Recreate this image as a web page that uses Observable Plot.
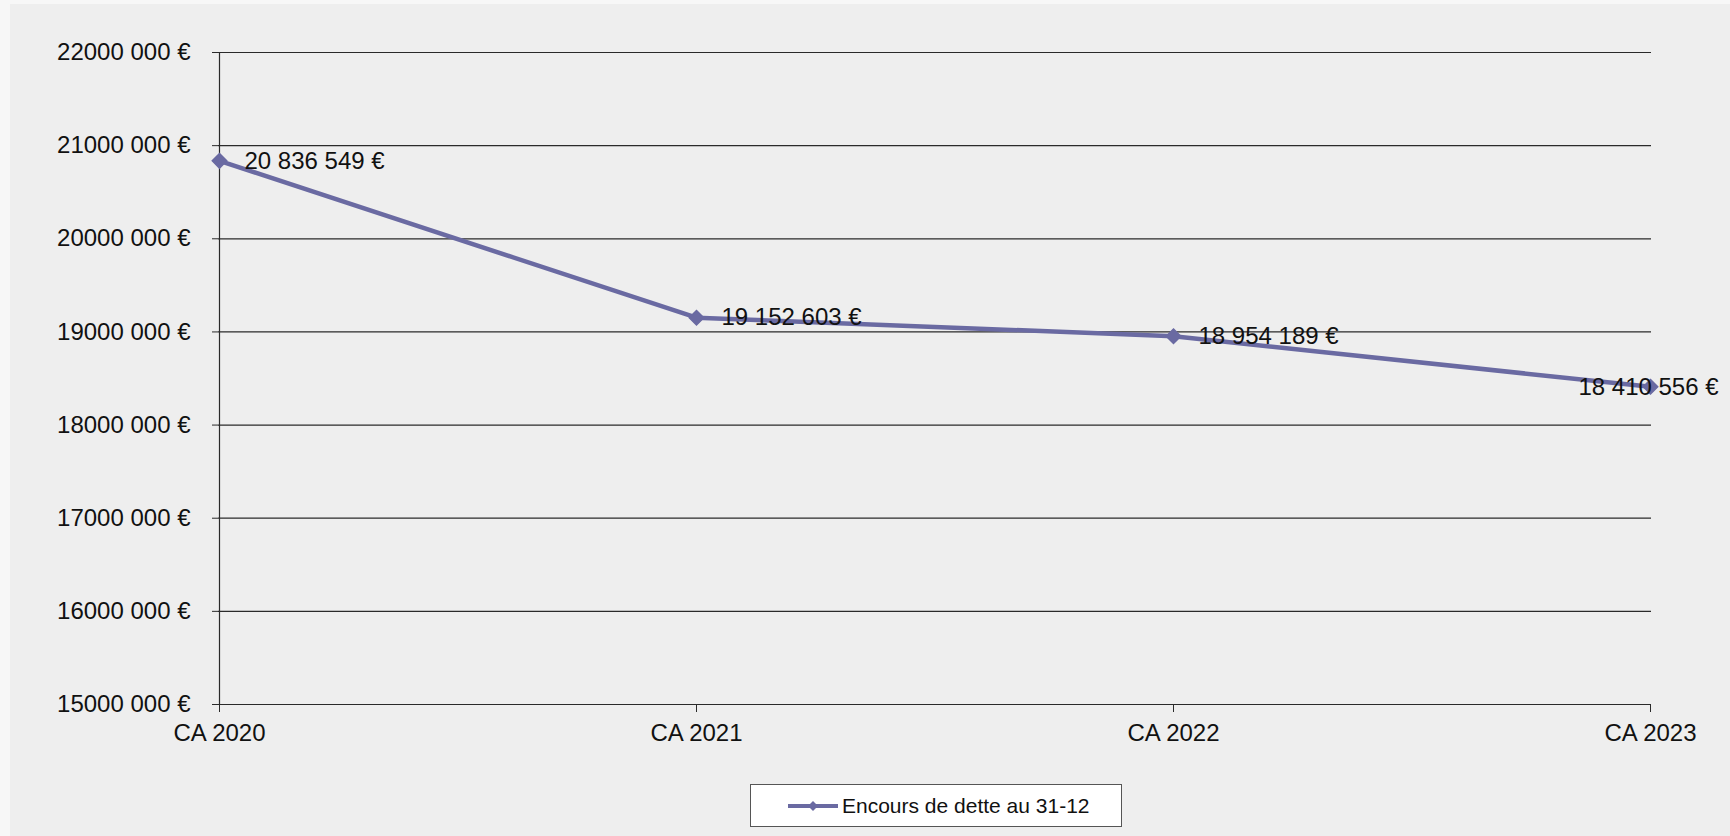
<!DOCTYPE html>
<html><head><meta charset="utf-8">
<script src="https://cdn.jsdelivr.net/npm/d3@7"></script>
<script src="https://cdn.jsdelivr.net/npm/@observablehq/plot@0.6"></script>
<style>
html,body{margin:0;padding:0;background:#f7f7f7;font-family:"Liberation Sans",Arial,sans-serif;}
#bg{position:absolute;left:10px;top:4px;width:1720px;height:832px;background:#eeeeee;}
#chart{position:absolute;left:0;top:0;width:1730px;}
#legend{margin-left:750px;margin-top:24px;width:370px;height:41px;background:#ffffff;border:1px solid #555;box-sizing:content-box;display:flex;align-items:center;font-size:21px;color:#111;}
#legend svg{margin-left:36px;margin-right:3px;}
</style></head>
<body>
<div id="bg"></div>
<div id="chart"></div>
<script>
const categories = ["CA 2020", "CA 2021", "CA 2022", "CA 2023"];
const encours = [20836549, 19152603, 18954189, 18410556];
const yTicks = [15000000, 16000000, 17000000, 18000000, 19000000, 20000000, 21000000, 22000000];
const seriesName = "Encours de dette au 31-12";

const data = categories.map((c, i) => ({cat: c, v: encours[i], last: i === categories.length - 1}));
const fmtTick = n => `${Math.round(n / 1000)} 000 €`;
const fmtLabel = n => d3.format(",")(n).replace(/,/g, " ") + " €";
const lineColor = "#6a6aa2";

const chart = Plot.plot({
  width: 1730,
  height: 760,
  marginLeft: 218,
  marginRight: 79,
  marginTop: 52,
  marginBottom: 56,
  style: {fontSize: "24px", fontFamily: "'Liberation Sans', Arial, sans-serif", background: "transparent", color: "#111", overflow: "visible"},
  x: {type: "point", domain: categories, padding: 0},
  y: {domain: [15000000, 22000000]},
  marks: [
    Plot.gridY(yTicks, {stroke: "#2a2a2a", strokeOpacity: 1, strokeWidth: 1.2}),
    Plot.ruleX([categories[0]], {stroke: "#2a2a2a", strokeWidth: 1.2}),
    Plot.axisY({ticks: yTicks, tickSize: 6, tickPadding: 22, tickFormat: fmtTick, stroke: "#2a2a2a", fontSize: 24, fill: "#111", label: null}),
    Plot.axisX({tickSize: 8, tickPadding: 11, stroke: "#2a2a2a", fontSize: 24, fill: "#111", label: null}),
    Plot.line(data, {x: "cat", y: "v", stroke: lineColor, strokeWidth: 4.5}),
    Plot.dot(data, {x: "cat", y: "v", symbol: "diamond2", r: 6.5, fill: lineColor, stroke: lineColor}),
    Plot.text(data.filter(d => !d.last), {x: "cat", y: "v", text: d => fmtLabel(d.v), textAnchor: "start", dx: 25, fontSize: 24, fill: "#111"}),
    Plot.text(data.filter(d => d.last), {x: "cat", y: "v", text: d => fmtLabel(d.v), textAnchor: "middle", dx: -2, fontSize: 24, fill: "#111"})
  ]
});
document.getElementById("chart").appendChild(chart);

const legend = document.createElement("div");
legend.id = "legend";
legend.innerHTML = `<svg width="52" height="14"><line x1="1" y1="7" x2="51" y2="7" stroke="${lineColor}" stroke-width="4"/><path d="M26 2 L31 7 L26 12 L21 7 Z" fill="${lineColor}"/></svg><span>${seriesName}</span>`;
document.getElementById("chart").appendChild(legend);
</script>
</body></html>
